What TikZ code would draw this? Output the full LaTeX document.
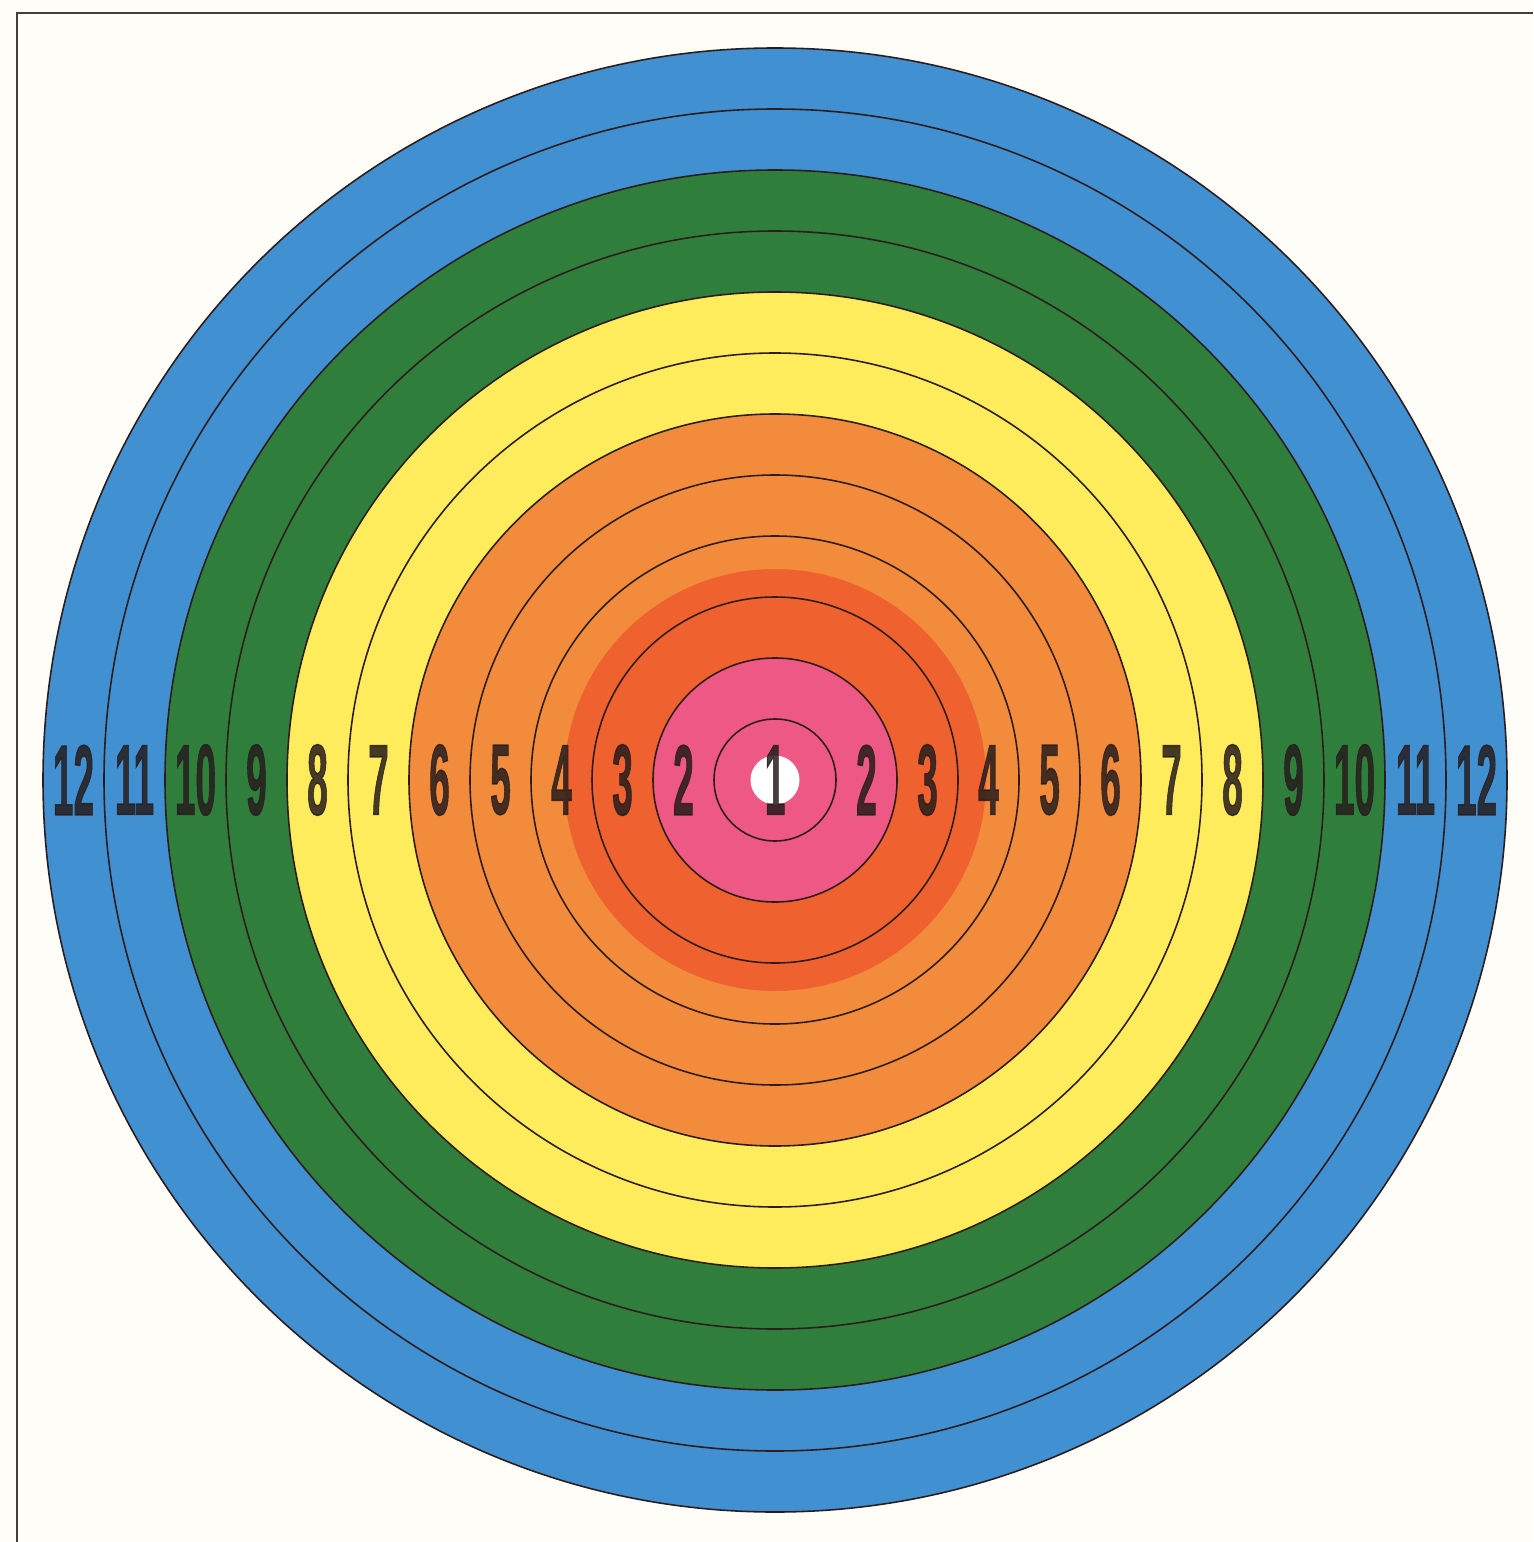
\documentclass[tikz,border=0pt]{standalone}
\usepackage{fontspec}
\setmainfont{Liberation Sans}[BoldFeatures={FakeBold=1.5}]
\usepackage{graphicx}
\usepackage{tikz}

\definecolor{paper}{RGB}{254,253,247}
\definecolor{ringblue}{RGB}{64,144,210}
\definecolor{ringgreen}{RGB}{48,126,60}
\definecolor{ringyellow}{RGB}{255,236,92}
\definecolor{ringorange}{RGB}{242,139,60}
\definecolor{ringred}{RGB}{239,98,48}
\definecolor{ringpink}{RGB}{238,88,132}
\definecolor{ringline}{RGB}{45,28,28}
\definecolor{digit}{RGB}{38,28,28}
\newcommand{\narrow}[1]{\scalebox{0.37}[1]{#1}}

\begin{document}
\begin{tikzpicture}
	\tikzstyle{every node}+=[inner sep=0pt, text=digit, text opacity=0.85, font=\bfseries\fontsize{28.5}{28.5}\selectfont]
	\useasboundingbox (0,0) rectangle (15.33,-15.42);
	\fill [paper] (0,0) rectangle (15.33,-15.42);
	\draw [black!75, line width=0.6pt] (0.17,-15.42) -- (0.17,-0.13) -- (15.33,-0.13);
	% colour bands
	\fill [ringblue] (7.75,-7.80) circle (7.32);
	\fill [ringgreen] (7.75,-7.80) circle (6.10);
	\fill [ringyellow] (7.75,-7.80) circle (4.88);
	\fill [ringorange] (7.75,-7.80) circle (3.66);
	\fill [ringred] (7.75,-7.80) circle (2.11);
	\fill [ringpink] (7.75,-7.80) circle (1.22);
	\fill [white] (7.75,-7.80) circle (0.245);
	% ring lines
	\draw [ringline, line width=0.45pt] (7.75,-7.80) circle (0.61);
	\draw [ringline, line width=0.45pt] (7.75,-7.80) circle (1.22);
	\draw [ringline, line width=0.45pt] (7.75,-7.80) circle (1.83);
	\draw [ringline, line width=0.45pt] (7.75,-7.80) circle (2.44);
	\draw [ringline, line width=0.45pt] (7.75,-7.80) circle (3.05);
	\draw [ringline, line width=0.45pt] (7.75,-7.80) circle (3.66);
	\draw [ringline, line width=0.45pt] (7.75,-7.80) circle (4.27);
	\draw [ringline, line width=0.45pt] (7.75,-7.80) circle (4.88);
	\draw [ringline, line width=0.45pt] (7.75,-7.80) circle (5.49);
	\draw [ringline, line width=0.45pt] (7.75,-7.80) circle (6.10);
	\draw [ringline, line width=0.45pt] (7.75,-7.80) circle (6.71);
	\draw [ringline, line width=0.45pt] (7.75,-7.80) circle (7.32);
	% numbers
	\draw (7.75,-7.80) node (c1) {\narrow{1}};
	\draw (6.835,-7.80) node (l2) {\narrow{2}};
	\draw (8.665,-7.80) node (r2) {\narrow{2}};
	\draw (6.225,-7.80) node (l3) {\narrow{3}};
	\draw (9.275,-7.80) node (r3) {\narrow{3}};
	\draw (5.615,-7.80) node (l4) {\narrow{4}};
	\draw (9.885,-7.80) node (r4) {\narrow{4}};
	\draw (5.005,-7.80) node (l5) {\narrow{5}};
	\draw (10.495,-7.80) node (r5) {\narrow{5}};
	\draw (4.395,-7.80) node (l6) {\narrow{6}};
	\draw (11.105,-7.80) node (r6) {\narrow{6}};
	\draw (3.785,-7.80) node (l7) {\narrow{7}};
	\draw (11.715,-7.80) node (r7) {\narrow{7}};
	\draw (3.175,-7.80) node (l8) {\narrow{8}};
	\draw (12.325,-7.80) node (r8) {\narrow{8}};
	\draw (2.565,-7.80) node (l9) {\narrow{9}};
	\draw (12.935,-7.80) node (r9) {\narrow{9}};
	\draw (1.955,-7.80) node (l10) {\narrow{10}};
	\draw (13.545,-7.80) node (r10) {\narrow{10}};
	\draw (1.345,-7.80) node (l11) {\narrow{11}};
	\draw (14.155,-7.80) node (r11) {\narrow{11}};
	\draw (0.735,-7.80) node (l12) {\narrow{12}};
	\draw (14.765,-7.80) node (r12) {\narrow{12}};
\end{tikzpicture}
\end{document}
